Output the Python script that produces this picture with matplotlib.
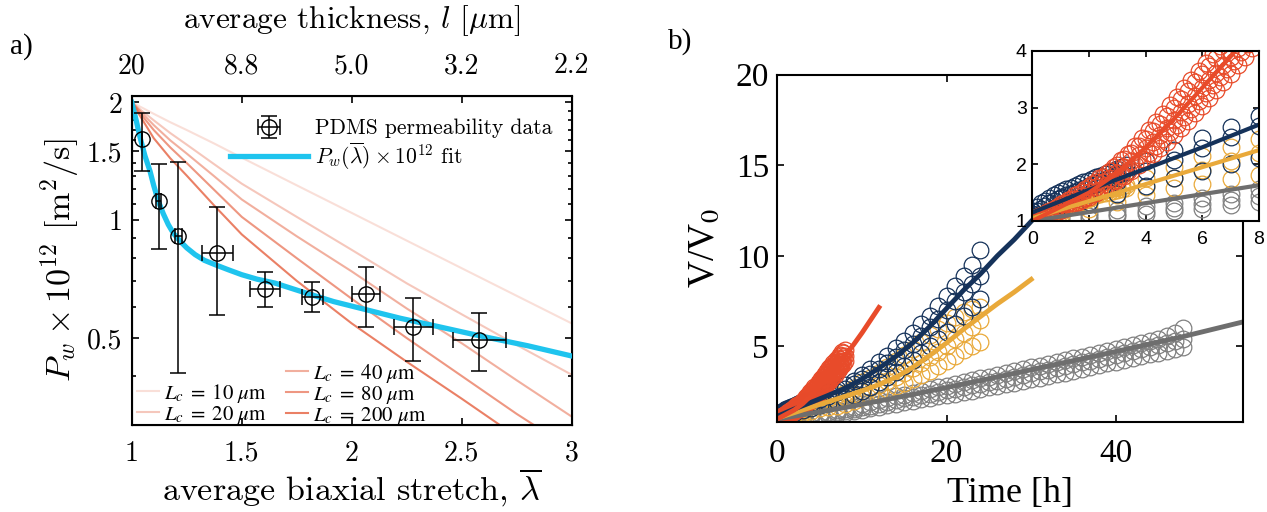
import numpy as np
import matplotlib
matplotlib.use("Agg")
import matplotlib.pyplot as plt
from matplotlib.ticker import FixedLocator, NullFormatter

plt.rcParams['font.family'] = ['cmr10', 'DejaVu Serif']
plt.rcParams['mathtext.fontset'] = 'cm'
plt.rcParams['axes.unicode_minus'] = False

# ---- panel a: permeability vs stretch ----
lam = [1.048, 1.123, 1.212, 1.389, 1.607, 1.820, 2.064, 2.280, 2.580]
lam_err = [0.0, 0.012, 0.015, 0.072, 0.069, 0.047, 0.063, 0.090, 0.120]
perm = [1.61, 1.118, 0.910, 0.825, 0.667, 0.637, 0.649, 0.535, 0.495]
perm_hi = [1.88, 1.395, 1.41, 1.08, 0.736, 0.696, 0.758, 0.633, 0.579]
perm_lo = [1.34, 0.846, 0.407, 0.573, 0.600, 0.583, 0.535, 0.436, 0.411]

fit_lam = [1.0, 1.02, 1.038, 1.06, 1.083, 1.10, 1.121, 1.143, 1.166, 1.19, 1.22, 1.25, 1.288,
           1.33, 1.379, 1.44, 1.5, 1.57, 1.651, 1.78, 1.917, 2.07, 2.22, 2.4, 2.58, 2.8, 3.0]
fit_perm = [2.0, 1.80, 1.625, 1.46, 1.335, 1.225, 1.118, 1.04, 0.975, 0.925, 0.884, 0.85, 0.817,
            0.79, 0.77, 0.747, 0.726, 0.707, 0.691, 0.655, 0.620, 0.59, 0.562, 0.534, 0.507, 0.478, 0.45]

lc_lam = [1.0, 1.05, 1.1, 1.175, 1.25, 1.375, 1.5, 1.75, 2.0, 2.25, 2.5, 2.75, 3.0]
lc_names = ['10', '20', '40', '80', '200']
lc_perm = [
    [2.0, 1.935, 1.87, 1.78, 1.70, 1.57, 1.445, 1.228, 1.044, 0.887, 0.754, 0.641, 0.545],
    [2.0, 1.895, 1.80, 1.67, 1.56, 1.39, 1.24, 1.02, 0.84, 0.69, 0.575, 0.48, 0.403],
    [2.0, 1.87, 1.75, 1.60, 1.48, 1.295, 1.13, 0.91, 0.74, 0.595, 0.485, 0.39, 0.315],
    [2.0, 1.84, 1.70, 1.535, 1.40, 1.195, 1.02, 0.80, 0.63, 0.50, 0.40, 0.32, 0.26],
    [2.0, 1.80, 1.62, 1.44, 1.30, 1.09, 0.92, 0.70, 0.545, 0.435, 0.35, 0.28, 0.225],
]
lc_alpha = [0.2, 0.35, 0.5, 0.65, 0.8]

top_ticks = [1, 1.5, 2, 2.5, 3]
top_labels = ['20', '8.8', '5.0', '3.2', '2.2']

# ---- panel b: volume growth ----
red_fit_t = [0, 1, 2, 3, 4, 5, 6, 7, 8, 9, 10, 11, 12]
red_fit_v = [1.0, 1.25, 1.5, 1.85, 2.3, 2.8, 3.35, 3.9, 4.5, 5.1, 5.75, 6.45, 7.15]
red_t = [0, 0.25, 0.5, 0.75, 1, 1.25, 1.5, 1.75, 2, 2.25, 2.5, 2.75, 3, 3.25, 3.5, 3.75,
         4, 4.25, 4.5, 4.75, 5, 5.25, 5.5, 5.75, 6, 6.25, 6.5, 6.75, 7, 7.25, 7.5, 7.75, 8]
red_t2 = [0.12, 0.37, 0.62, 0.87, 1.12, 1.37, 1.62, 1.87, 2.12, 2.37, 2.62, 2.87, 3.12, 3.37, 3.62,
          3.87, 4.12, 4.37, 4.62, 4.87, 5.12, 5.37, 5.62, 5.87, 6.12, 6.37, 6.62, 6.87, 7.12, 7.37, 7.62]
red_v = [
    [1.00, 1.06, 1.12, 1.18, 1.25, 1.31, 1.38, 1.44, 1.52, 1.60, 1.68, 1.76, 1.85, 1.95, 2.05, 2.16,
     2.28, 2.40, 2.52, 2.64, 2.78, 2.92, 3.06, 3.20, 3.34, 3.48, 3.62, 3.76, 3.90, 4.05, 4.20, 4.35, 4.50],
    [1.02, 1.08, 1.15, 1.22, 1.30, 1.37, 1.45, 1.52, 1.60, 1.69, 1.78, 1.88, 1.98, 2.09, 2.20, 2.32,
     2.45, 2.58, 2.72, 2.86, 3.00, 3.15, 3.30, 3.45, 3.60, 3.74, 3.88, 4.02, 4.17, 4.32, 4.48, 4.64, 4.80],
    [0.98, 1.03, 1.08, 1.13, 1.19, 1.25, 1.31, 1.37, 1.43, 1.50, 1.57, 1.64, 1.72, 1.80, 1.89, 1.98,
     2.08, 2.18, 2.29, 2.40, 2.52, 2.64, 2.77, 2.90, 3.03, 3.17, 3.31, 3.45, 3.60, 3.75, 3.90, 4.05, 4.20],
]
red_v2 = [
    [1.03, 1.10, 1.17, 1.24, 1.31, 1.39, 1.47, 1.56, 1.65, 1.75, 1.85, 1.96, 2.07, 2.19, 2.32, 2.46,
     2.60, 2.74, 2.89, 3.04, 3.19, 3.34, 3.49, 3.64, 3.79, 3.94, 4.09, 4.24, 4.39, 4.54, 4.69],
    [0.99, 1.04, 1.10, 1.16, 1.22, 1.28, 1.34, 1.41, 1.48, 1.55, 1.63, 1.71, 1.80, 1.89, 1.99, 2.09,
     2.20, 2.32, 2.44, 2.57, 2.70, 2.84, 2.98, 3.12, 3.26, 3.40, 3.54, 3.68, 3.83, 3.98, 4.13],
]

navy_fit_t = [0, 2, 4, 6, 8, 10, 12, 14, 16, 18, 20, 22, 24, 26, 28, 30]
navy_fit_v = [1.15, 1.55, 1.92, 2.3, 2.7, 3.2, 3.8, 4.45, 5.2, 6.1, 7.1, 8.1, 9.0, 10.0, 10.9, 11.9]
navy_t = list(range(0, 25))
navy_v = [
    [1.18, 1.40, 1.62, 1.84, 2.06, 2.26, 2.46, 2.66, 2.85, 3.10, 3.40, 3.75, 4.12, 4.50, 4.90, 5.32,
     5.75, 6.22, 6.70, 7.25, 7.80, 8.35, 8.90, 9.50, 10.3],
    [1.12, 1.28, 1.48, 1.68, 1.88, 2.08, 2.28, 2.48, 2.68, 2.92, 3.18, 3.46, 3.76, 4.08, 4.42, 4.78,
     5.16, 5.60, 6.05, 6.52, 7.02, 7.52, 8.00, 8.45, 8.90],
    [1.08, 1.20, 1.34, 1.48, 1.62, 1.76, 1.88, 2.00, 2.12, 2.30, 2.52, 2.76, 3.02, 3.30, 3.60, 3.92,
     4.26, 4.62, 5.00, 5.40, 5.82, 6.25, 6.70, 7.15, 7.60],
]
early_t = [0.0, 0.15, 0.3, 0.45, 0.6, 0.75, 0.9, 1.05, 1.2, 1.35, 1.5, 1.65, 1.8, 1.95, 2.1, 2.25,
           2.4, 2.55, 2.7, 2.85, 3.0, 3.15, 3.3]
navy_early_v = [
    [1.18, 1.25, 1.31, 1.36, 1.41, 1.45, 1.49, 1.53, 1.56, 1.59, 1.62, 1.65, 1.68, 1.71, 1.74, 1.77,
     1.80, 1.83, 1.86, 1.89, 1.92, 1.95, 1.98],
    [1.12, 1.17, 1.22, 1.27, 1.31, 1.35, 1.39, 1.42, 1.45, 1.48, 1.51, 1.54, 1.57, 1.60, 1.63, 1.66,
     1.69, 1.72, 1.75, 1.78, 1.81, 1.84, 1.87],
]

gold_fit_t = [0, 2, 4, 6, 8, 10, 12, 14, 16, 18, 20, 22, 24, 26, 28, 30]
gold_fit_v = [1.05, 1.35, 1.65, 1.95, 2.25, 2.55, 2.9, 3.3, 3.85, 4.5, 5.2, 5.95, 6.65, 7.35, 8.0, 8.7]
gold_t = list(range(0, 25))
gold_v = [
    [1.08, 1.22, 1.40, 1.58, 1.76, 1.95, 2.14, 2.30, 2.45, 2.70, 3.02, 3.28, 3.55, 3.85, 4.18, 4.52,
     4.88, 5.25, 5.62, 5.98, 6.32, 6.62, 6.88, 7.05, 7.15],
    [1.02, 1.15, 1.30, 1.45, 1.60, 1.75, 1.90, 2.05, 2.20, 2.36, 2.52, 2.70, 2.88, 3.08, 3.30, 3.55,
     3.82, 4.10, 4.40, 4.72, 5.05, 5.40, 5.75, 6.10, 6.45],
    [0.98, 1.10, 1.22, 1.34, 1.46, 1.58, 1.66, 1.74, 1.82, 2.00, 2.20, 2.34, 2.48, 2.63, 2.80, 2.98,
     3.18, 3.40, 3.64, 3.90, 4.18, 4.48, 4.80, 5.05, 5.25],
]
gold_early_v = [
    [1.05, 1.08, 1.11, 1.14, 1.17, 1.20, 1.23, 1.26, 1.29, 1.32, 1.35, 1.38, 1.41, 1.44, 1.47, 1.50,
     1.52, 1.54, 1.56, 1.58, 1.60, 1.62, 1.64],
    [1.00, 1.03, 1.06, 1.09, 1.12, 1.15, 1.18, 1.21, 1.24, 1.27, 1.30, 1.33, 1.36, 1.39, 1.42, 1.45,
     1.47, 1.49, 1.51, 1.53, 1.55, 1.57, 1.59],
]

gray_fit_t = [0, 8, 16, 24, 32, 40, 48, 55]
gray_fit_v = [1.0, 1.63, 2.35, 3.12, 3.92, 4.72, 5.55, 6.35]
gray_t = list(range(0, 49))
gray_v = [
    [1.02, 1.08, 1.14, 1.20, 1.26, 1.32, 1.40, 1.48, 1.56, 1.68, 1.80, 1.92, 2.04, 2.14, 2.24, 2.34,
     2.44, 2.54, 2.64, 2.74, 2.84, 2.94, 3.04, 3.14, 3.24, 3.34, 3.44, 3.54, 3.64, 3.74, 3.84, 3.94,
     4.04, 4.14, 4.24, 4.34, 4.44, 4.54, 4.64, 4.75, 4.86, 4.97, 5.08, 5.19, 5.30, 5.42, 5.55, 5.75, 6.00],
    [0.98, 1.03, 1.08, 1.13, 1.18, 1.23, 1.30, 1.37, 1.44, 1.54, 1.64, 1.74, 1.84, 1.95, 2.04, 2.13,
     2.22, 2.31, 2.40, 2.49, 2.58, 2.67, 2.76, 2.85, 2.94, 3.03, 3.12, 3.22, 3.32, 3.42, 3.52, 3.62,
     3.72, 3.82, 3.92, 4.02, 4.12, 4.22, 4.32, 4.43, 4.54, 4.65, 4.76, 4.87, 4.98, 5.09, 5.20, 5.31, 5.42],
    [0.96, 1.00, 1.04, 1.08, 1.12, 1.17, 1.22, 1.28, 1.34, 1.42, 1.50, 1.58, 1.66, 1.76, 1.84, 1.92,
     2.00, 2.08, 2.16, 2.24, 2.32, 2.40, 2.48, 2.56, 2.65, 2.74, 2.83, 2.92, 3.01, 3.10, 3.19, 3.28,
     3.37, 3.46, 3.56, 3.66, 3.76, 3.86, 3.96, 4.06, 4.16, 4.26, 4.36, 4.46, 4.56, 4.66, 4.76, 4.86, 4.96],
]

c_red = '#E84B2A'
c_navy = '#15325A'
c_gold = '#E9A93A'
c_gray = '#808080'
c_blue = '#1FC4EE'
c_lc = '#E5603F'

serif_b = ['Liberation Serif', 'DejaVu Serif']

fig = plt.figure(figsize=(12.67, 5.12), dpi=100)

# ================= panel a =================
ax = fig.add_axes([0.104, 0.170, 0.3473, 0.643])
lines_lc = []
for vals, name, a in zip(lc_perm, lc_names, lc_alpha):
    ln, = ax.plot(lc_lam, vals, color=c_lc, alpha=a, lw=1.5,
                  label=r'$L_c\;=\;' + name + r'\ \mu\mathrm{m}$')
    lines_lc.append(ln)
fitline, = ax.plot(fit_lam, fit_perm, color=c_blue, lw=3.8, zorder=4,
                   label=r'$P_w(\overline{\lambda})\times 10^{12}$ fit')
yerr = [np.array(perm) - np.array(perm_lo), np.array(perm_hi) - np.array(perm)]
eb = ax.errorbar(lam, perm, yerr=yerr, xerr=lam_err, fmt='o', mfc='none', mec='k', ms=11,
                 color='k', ecolor='k', elinewidth=1.1, capsize=6, capthick=1.1, zorder=5,
                 label='PDMS permeability data')
ax.set_yscale('log')
ax.set_xlim(1, 3)
ax.set_ylim(0.3, 2.08)
ax.yaxis.set_major_locator(FixedLocator([0.5, 1, 1.5, 2]))
ax.yaxis.set_minor_locator(FixedLocator([0.4, 0.6, 0.7, 0.8, 0.9, 1.1, 1.2, 1.3, 1.4, 1.6, 1.7, 1.8, 1.9]))
ax.yaxis.set_major_formatter(plt.FixedFormatter(['0.5', '1', '1.5', '2']))
ax.yaxis.set_minor_formatter(NullFormatter())
ax.set_xticks([1, 1.5, 2, 2.5, 3])
ax.set_xticklabels(['1', '1.5', '2', '2.5', '3'])
ax.tick_params(which='both', direction='in', right=True, labelsize=20, width=1.2)
ax.tick_params(which='major', length=5)
ax.tick_params(which='minor', length=3)
ax.tick_params(axis='x', pad=11)
ax.tick_params(axis='y', pad=7)
for s in ax.spines.values():
    s.set_linewidth(1.5)
ax.set_xlabel(r'average biaxial stretch, $\overline{\lambda}$', fontsize=24.5, labelpad=0)
ax.set_ylabel(r'$P_w\times 10^{12}$ [m$^2$/s]', fontsize=24.5, labelpad=4)

axt = ax.twiny()
axt.set_xlim(1, 3)
axt.set_xticks(top_ticks)
axt.set_xticklabels(top_labels)
axt.tick_params(direction='in', labelsize=20, length=5, width=1.2, pad=12)
axt.set_xlabel(r'average thickness, $l$ [$\mu$m]', fontsize=22.5, labelpad=18)

leg1 = ax.legend(handles=[eb, fitline], loc='upper left', frameon=False, fontsize=15.5,
                 handlelength=3.6, handletextpad=0.33, labelspacing=0.1,
                 borderpad=0.0, borderaxespad=0.0, bbox_to_anchor=(0.2234, 0.93))
ax.add_artist(leg1)
blank, = ax.plot([], [], color='none', label=' ')
leg2 = ax.legend(handles=[blank] + lines_lc, ncol=2, loc='lower left', frameon=False, fontsize=15,
                 handlelength=1.06, handletextpad=0.25, labelspacing=-0.05, columnspacing=0.9,
                 borderaxespad=0.0, borderpad=0.0, bbox_to_anchor=(0.012, -0.005))
for t in leg2.get_texts():
    t.set_math_fontfamily('stix')

fig.text(0.008, 0.895, 'a)', fontsize=21, family=serif_b)

# ================= panel b =================
bx = fig.add_axes([0.6136, 0.1764, 0.3672, 0.678])
mk = dict(marker='o', mfc='none', ms=12, mew=0.9, ls='none')


def draw_growth(a, lw):
    for vals in gray_v:
        a.plot(gray_t, vals, mec=c_gray, **mk)
    for vals in gold_v:
        a.plot(gold_t, vals, mec=c_gold, **mk)
    for vals in gold_early_v:
        a.plot(early_t, vals, mec=c_gold, **mk)
    for vals in navy_v:
        a.plot(navy_t, vals, mec=c_navy, **mk)
    for vals in navy_early_v:
        a.plot(early_t, vals, mec=c_navy, **mk)
    for vals in red_v:
        a.plot(red_t, vals, mec=c_red, **mk)
    for vals in red_v2:
        a.plot(red_t2, vals, mec=c_red, **mk)
    a.plot(gray_fit_t, gray_fit_v, color='#6E6E6E', lw=lw)
    a.plot(gold_fit_t, gold_fit_v, color=c_gold, lw=lw)
    a.plot(navy_fit_t, navy_fit_v, color=c_navy, lw=lw)
    a.plot(red_fit_t, red_fit_v, color=c_red, lw=lw)


draw_growth(bx, 3.5)
bx.set_xlim(0, 55)
bx.set_ylim(0.85, 20)
bx.set_xticks([0, 20, 40])
bx.set_yticks([5, 10, 15, 20])
bx.tick_params(direction='in', top=True, right=True, labelsize=24, length=5, width=1.2)
bx.tick_params(axis='x', pad=12)
bx.tick_params(axis='y', pad=6)
for t in bx.get_xticklabels() + bx.get_yticklabels():
    t.set_family(serif_b)
for s in bx.spines.values():
    s.set_linewidth(1.5)
xl = bx.set_xlabel('Time [h]', fontsize=26, family=serif_b, labelpad=6)
yl = bx.set_ylabel(r'V/V$_0$', fontsize=27, family=serif_b, labelpad=10)
yl.set_math_fontfamily('stix')
fig.text(0.527, 0.905, 'b)', fontsize=21, family=serif_b)

# inset
ix = fig.add_axes([0.8148, 0.5684, 0.1788, 0.332])
ix.set_facecolor('white')
draw_growth(ix, 3)
ix.set_xlim(0, 8)
ix.set_ylim(1, 4)
ix.set_xticks([0, 2, 4, 6, 8])
ix.set_yticks([1, 2, 3, 4])
ix.tick_params(direction='in', top=True, right=True, labelsize=14, length=4, width=1.2, pad=4)
ix.tick_params(axis='x', pad=7)
for t in ix.get_xticklabels() + ix.get_yticklabels():
    t.set_family(['Liberation Sans', 'DejaVu Sans'])
for s in ix.spines.values():
    s.set_linewidth(1.5)

fig.savefig('out.png', dpi=100)
